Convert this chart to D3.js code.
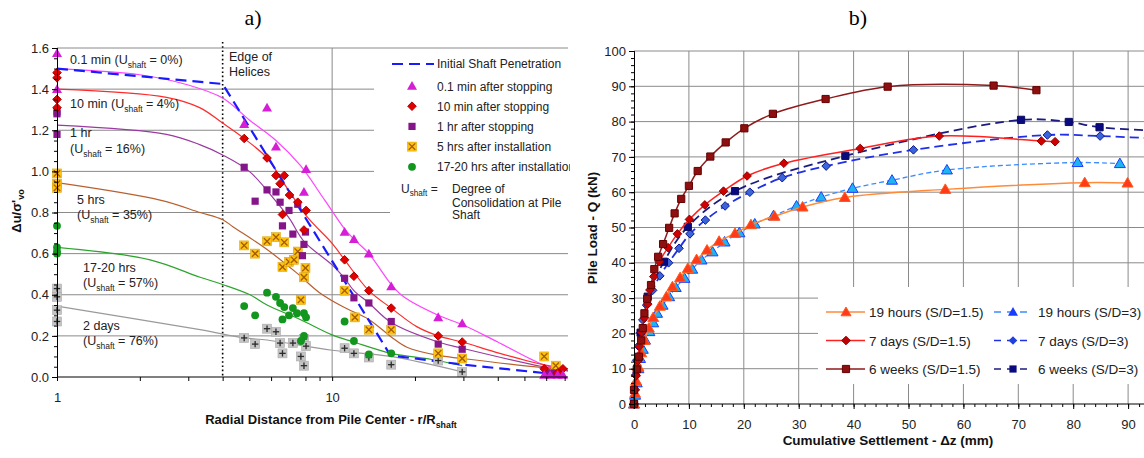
<!DOCTYPE html>
<html>
<head>
<meta charset="utf-8">
<script src="https://cdn.jsdelivr.net/npm/d3@7"></script>
<style>
body { margin: 0; background: #fff; }
svg { display: block; font-family: "Liberation Sans", Arial, sans-serif; }
</style>
</head>
<body>
<svg id="chart" width="1144" height="458"></svg>
<script>
// ---------- panel a) data : r/Rshaft , du/s'vo ----------
var rTicks = [1, 2, 3, 4, 5, 6, 7, 8, 9, 10, 20, 30, 40, 50, 60, 70];
var duTicks = [0, 0.2, 0.4, 0.6, 0.8, 1.0, 1.2, 1.4, 1.6];
var helixEdge = 4;

var initShaft = [[1, 1.50], [4.0, 1.425], [16.3, 0.105], [30, 0.06], [69, 0.01]];

var fit01min = [[1, 1.50], [2, 1.47], [3, 1.42], [4, 1.357], [5, 1.25], [6.25, 1.15], [7.65, 1.03], [9.4, 0.86], [11.1, 0.72], [12, 0.67], [13.6, 0.60], [16.4, 0.45], [18.2, 0.39], [24.3, 0.30], [29.7, 0.255], [40, 0.17], [58.5, 0.06], [72, 0.03]];
var fit10min = [[1, 1.40], [2.5, 1.36], [3.3, 1.31], [4, 1.235], [4.79, 1.16], [5.8, 1.065], [6.85, 0.92], [8.1, 0.78], [10, 0.65], [11.1, 0.57], [13.6, 0.42], [16.4, 0.335], [20.3, 0.245], [24.3, 0.20], [29.7, 0.17], [40.7, 0.115], [58.5, 0.06], [72, 0.04]];
var fit1hr = [[1, 1.225], [2.5, 1.18], [3.3, 1.13], [4, 1.08], [5, 1.0], [6.2, 0.86], [7, 0.77], [7.9, 0.66], [10, 0.545], [11.1, 0.48], [12, 0.42], [13.6, 0.36], [16.4, 0.265], [24.3, 0.17], [29.7, 0.14], [58.5, 0.05], [72, 0.03]];
var fit5hr = [[1, 0.945], [2.37, 0.86], [3.31, 0.80], [4, 0.765], [4.37, 0.73], [5.8, 0.62], [7.45, 0.505], [9, 0.41], [11, 0.34], [13.6, 0.28], [16.4, 0.195], [18.7, 0.145], [24.3, 0.105], [29.7, 0.09], [58.5, 0.045], [72, 0.035]];
var fit17hr = [[1, 0.63], [2.18, 0.57], [3.31, 0.485], [4, 0.45], [5.03, 0.40], [5.8, 0.35], [7.65, 0.28], [10, 0.205], [12, 0.17], [16.4, 0.115], [23, 0.085], [29.7, 0.055]];
var fit2day = [[1, 0.345], [3.31, 0.23], [4.79, 0.19], [5.8, 0.18], [10, 0.13], [16.3, 0.10], [29.7, 0.025]];

var pts01min = [[1, 1.575], [1, 1.40], [4.79, 1.23], [5.8, 1.31], [6.25, 1.12], [8.04, 1.01], [7.9, 0.90], [11.1, 0.705], [12.0, 0.67], [13.6, 0.60], [16.4, 0.44], [24.3, 0.29], [29.7, 0.26], [59, 0.01], [62, 0.01], [66, 0.01], [69, 0.01]];
var pts10min = [[1, 1.48], [1, 1.455], [1, 1.35], [1, 1.31], [4.79, 1.16], [5.8, 1.065], [6.25, 0.98], [6.7, 0.98], [6.47, 0.94], [7.0, 0.885], [7.5, 0.85], [6.6, 0.79], [8.04, 0.81], [7.9, 0.715], [11.1, 0.57], [12.0, 0.49], [13.6, 0.42], [16.4, 0.335], [24.3, 0.20], [29.7, 0.17], [59, 0.04], [66, 0.02], [69, 0.04]];
var pts1hr = [[1, 1.29], [1, 1.28], [1, 1.18], [4.79, 1.02], [5.8, 0.91], [6.25, 0.90], [5.25, 0.855], [6.47, 0.85], [7.5, 0.84], [6.97, 0.81], [6.6, 0.735], [7.2, 0.695], [8.0, 0.705], [7.9, 0.645], [7.8, 0.59], [11.1, 0.48], [12.0, 0.385], [13.6, 0.36], [16.4, 0.27], [24.3, 0.16], [29.7, 0.135], [60, 0.02], [63, 0.02], [67, 0.02]];
var pts5hr = [[1, 0.99], [1, 0.94], [1, 0.92], [4.79, 0.64], [5.25, 0.60], [5.8, 0.66], [6.25, 0.68], [6.7, 0.655], [6.6, 0.535], [6.97, 0.56], [7.27, 0.57], [7.5, 0.61], [8.0, 0.53], [7.9, 0.485], [7.7, 0.375], [11.1, 0.42], [12.1, 0.29], [13.6, 0.23], [16.4, 0.23], [24.3, 0.115], [29.7, 0.09], [59, 0.10], [65, 0.055]];
var pts17hr = [[1, 0.735], [1, 0.63], [1, 0.61], [1, 0.60], [4.79, 0.345], [5.25, 0.30], [5.8, 0.41], [6.25, 0.39], [6.47, 0.36], [6.7, 0.34], [6.6, 0.28], [6.97, 0.30], [7.2, 0.335], [7.45, 0.31], [7.9, 0.31], [8.04, 0.29], [7.9, 0.20], [7.7, 0.175], [11.1, 0.27], [12.0, 0.175], [13.6, 0.11], [16.4, 0.115]];
var pts2day = [[1, 0.43], [1, 0.39], [1, 0.325], [1, 0.27], [4.79, 0.19], [5.25, 0.16], [5.8, 0.235], [6.25, 0.22], [6.47, 0.165], [6.6, 0.115], [7.2, 0.165], [7.9, 0.185], [8.04, 0.15], [7.7, 0.10], [7.9, 0.055], [11.1, 0.14], [12.0, 0.115], [13.6, 0.095], [16.4, 0.06], [24.3, 0.08], [29.7, 0.025]];

var legendA = ["0.1 min after stopping", "10 min after stopping", "1 hr after stopping", "5 hrs after installation", "17-20 hrs after installation"];

// ---------- panel b) data : settlement (mm) , load (kN) ----------
var dzTicks = [0, 10, 20, 30, 40, 50, 60, 70, 80, 90];
var qTicks = [0, 10, 20, 30, 40, 50, 60, 70, 80, 90, 100];

var s19h15 = [[0, 0], [0.2, 3], [0.4, 6.5], [0.8, 10.5], [1.3, 14.5], [1.9, 18], [2.7, 21.5], [3.5, 24.5], [4.7, 27.7], [5.9, 30.4], [7.0, 33.2], [8.4, 35.8], [9.8, 38.4], [11.4, 40.9], [13.3, 43.6], [15.5, 46.1], [18.4, 48.3], [21.3, 50.8], [25.6, 53.2], [30.7, 55.8], [38.4, 58.5], [56.7, 60.8], [82.1, 62.7], [89.9, 62.6]];
var s7d15 = [[0, 0], [0.2, 4], [0.4, 8], [0.7, 12.2], [1.0, 16.3], [1.4, 20.3], [1.9, 24.4], [2.5, 28.3], [2.9, 32.3], [3.6, 36.1], [4.6, 40.3], [6.2, 44.3], [7.9, 48.2], [10.1, 52.3], [12.9, 56.4], [16.3, 60.3], [20.6, 64.6], [27.3, 68.2], [41.2, 72.4], [55.6, 75.9], [74.2, 74.5], [76.7, 74.3]];
var s6w15 = [[0, 0], [0, 4], [0.5, 9.8], [0.9, 13.4], [1.3, 18], [1.6, 21.5], [1.9, 25.7], [2.4, 29.8], [3.1, 33.7], [3.7, 38.2], [4.4, 41.7], [5.3, 45.3], [6.4, 49.9], [7.4, 54], [8.6, 58.1], [10.0, 61.8], [11.6, 66], [13.9, 70.1], [16.7, 74.1], [20.1, 78.1], [25.3, 82.2], [34.9, 86.4], [46.2, 89.9], [65.5, 90.2], [73.3, 88.9]];
var s19h3 = [[0, 0], [0.2, 2.5], [0.5, 6], [0.8, 10], [1.1, 12.9], [1.6, 15.5], [2.0, 18.1], [2.8, 20.5], [3.5, 23.0], [4.2, 25.7], [5.2, 28], [6.4, 30.4], [7.6, 33], [9.2, 35.6], [10.6, 38.2], [12.3, 40.8], [14.3, 43.1], [16.5, 45.9], [19.2, 48.5], [22.0, 51.0], [25.4, 53.3], [29.6, 56.1], [34.1, 58.6], [39.8, 61.1], [47.0, 63.4], [57.0, 66.3], [80.8, 68.4], [88.5, 68.1]];
var s7d3 = [[0, 0], [0.2, 4], [0.3, 8.2], [0.5, 12.4], [0.8, 16.4], [1.2, 20.2], [1.6, 23.8], [2.3, 28], [3.4, 32.2], [4.7, 36.3], [6.3, 40], [8.2, 44.1], [10.2, 48.2], [13, 52.1], [16.6, 56.1], [21.1, 60], [27, 64.1], [35, 67.4], [50.9, 72], [75.3, 76.2], [84.9, 75.9], [98, 75.0]];
var s6w3 = [[0, 0], [0.6, 10.1], [1.2, 20.2], [2.5, 30.4], [5.45, 40.3], [9.8, 50.2], [18.4, 60.3], [38.5, 70.3], [70.5, 80.5], [79.2, 79.9], [84.8, 78.4], [98, 77.2]];

var legendB = ["19 hours (S/D=1.5)", "7 days (S/D=1.5)", "6 weeks (S/D=1.5)", "19 hours (S/D=3)", "7 days (S/D=3)", "6 weeks (S/D=3)"];

// ---------- helpers ----------
var svg = d3.select('#chart');
var gridColor = '#8a8a8a';

function marker(g, type, x, y, fill, stroke) {
	if (type === 'x' || type === 'plus') {
		g.append('rect').attr('x', x - 4.5).attr('y', y - 4.5).attr('width', 9).attr('height', 9)
			.attr('fill', fill).attr('stroke', d3.color(fill).darker(0.4)).attr('stroke-width', 0.6);
		var k = 3.2, p = [];
		if (type === 'x') p = [[x - k, y - k, x + k, y + k], [x - k, y + k, x + k, y - k]];
		else p = [[x - k, y, x + k, y], [x, y - k, x, y + k]];
		p.forEach(function(l) {
			g.append('line').attr('x1', l[0]).attr('y1', l[1]).attr('x2', l[2]).attr('y2', l[3])
				.attr('stroke', stroke).attr('stroke-width', 1.3);
		});
		return;
	}
	var d;
	if (type === 'tri') d = 'M0,-5L5,3.8L-5,3.8Z';
	else if (type === 'bigtri') d = 'M0,-5.5L5.5,4L-5.5,4Z';
	else if (type === 'dia') d = 'M0,-4.3L4.3,0L0,4.3L-4.3,0Z';
	else if (type === 'sq') d = 'M-3.6,-3.6H3.6V3.6H-3.6Z';
	else d = d3.symbol().type(d3.symbolCircle).size(48)();
	g.append('path').attr('transform', 'translate(' + x + ',' + y + ')').attr('d', d)
		.attr('fill', fill).attr('stroke', stroke || 'none').attr('stroke-width', 1);
}

function subText(g, x, y, pre, sub, post, size, anchor) {
	var t = g.append('text').attr('x', x).attr('y', y).attr('font-size', size)
		.attr('fill', '#222').attr('text-anchor', anchor || 'start');
	t.append('tspan').text(pre);
	t.append('tspan').attr('font-size', size * 0.68).attr('dy', size * 0.28).text(sub);
	t.append('tspan').attr('dy', -size * 0.28).text(post);
	return t;
}

function styleAxis(a, size) {
	a.select('.domain').attr('stroke', '#000');
	a.selectAll('.tick line').attr('stroke', '#000');
	a.selectAll('.tick text').attr('font-size', size).attr('fill', '#222')
		.attr('font-family', '"Liberation Sans", Arial, sans-serif');
}

// ---------- panel a) ----------
var xL = d3.scaleLog().domain([1, 72]).range([57, 568]);
var yL = d3.scaleLinear().domain([0, 1.6]).range([377, 48]);

svg.append('defs').append('clipPath').attr('id', 'clipA')
	.append('rect').attr('x', 0).attr('y', 0).attr('width', 570).attr('height', 458);

var gA = svg.append('g').attr('clip-path', 'url(#clipA)');

gA.selectAll('line.hg').data(duTicks.slice(1)).enter().append('line')
	.attr('x1', xL(1)).attr('x2', 568)
	.attr('y1', function(d) { return yL(d); }).attr('y2', function(d) { return yL(d); })
	.attr('stroke', gridColor).attr('stroke-width', 1);
gA.append('line').attr('x1', xL(10)).attr('x2', xL(10)).attr('y1', yL(1.6)).attr('y2', yL(0))
	.attr('stroke', gridColor);
gA.append('line').attr('x1', xL(helixEdge)).attr('x2', xL(helixEdge)).attr('y1', 42).attr('y2', yL(0))
	.attr('stroke', '#000').attr('stroke-width', 1.6).attr('stroke-dasharray', '1.6,2.6');

// legend background (covers grid lines)
gA.append('rect').attr('x', 374).attr('y', 52).attr('width', 200).attr('height', 126).attr('fill', '#fff');
gA.append('rect').attr('x', 390).attr('y', 176).attr('width', 184).attr('height', 44).attr('fill', '#fff');

// axes
var yAxA = svg.append('g').attr('transform', 'translate(' + xL(1) + ',0)')
	.call(d3.axisLeft(yL).tickValues(d3.range(0, 1.601, 0.05)).tickSize(3).tickFormat(''));
styleAxis(yAxA, 13);
var yAxA2 = svg.append('g').attr('transform', 'translate(' + xL(1) + ',0)')
	.call(d3.axisLeft(yL).tickValues(duTicks).tickSize(5).tickPadding(3).tickFormat(d3.format('.1f')));
styleAxis(yAxA2, 13);
var xAxA = svg.append('g').attr('transform', 'translate(0,' + yL(0) + ')')
	.call(d3.axisBottom(xL).tickValues(rTicks).tickSize(4).tickPadding(12)
		.tickFormat(function(d) { return (d === 1 || d === 10) ? d : ''; }));
xAxA.select('.domain').attr('d', 'M' + xL(1) + ',0H568');
styleAxis(xAxA, 13);

// fitted curves
var lineA = d3.line().x(function(d) { return xL(d[0]); }).y(function(d) { return yL(d[1]); })
	.curve(d3.curveCatmullRom.alpha(0.5));
var fitsA = [
	{ data: fit01min, color: '#ff44ff' },
	{ data: fit10min, color: '#ff2a2a' },
	{ data: fit1hr, color: '#9a3aa0' },
	{ data: fit5hr, color: '#b8602e' },
	{ data: fit17hr, color: '#2ea32e' },
	{ data: fit2day, color: '#9a9a9a' }
];
fitsA.forEach(function(f) {
	gA.append('path').attr('d', lineA(f.data)).attr('fill', 'none')
		.attr('stroke', f.color).attr('stroke-width', 1.2);
});
gA.append('path').attr('d', d3.line().x(function(d) { return xL(d[0]); }).y(function(d) { return yL(d[1]); })(initShaft))
	.attr('fill', 'none').attr('stroke', '#1a1aff').attr('stroke-width', 2.2).attr('stroke-dasharray', '11,6');

// points
var ptsA = [
	{ data: pts2day, type: 'plus', fill: '#c4c4c4', stroke: '#2a2a2a' },
	{ data: pts17hr, type: 'circ', fill: '#12961e', stroke: null },
	{ data: pts5hr, type: 'x', fill: '#ffc20e', stroke: '#a05a00' },
	{ data: pts1hr, type: 'sq', fill: '#85168a', stroke: null },
	{ data: pts10min, type: 'dia', fill: '#e00000', stroke: '#b00000' },
	{ data: pts01min, type: 'tri', fill: '#d61ed6', stroke: null }
];
ptsA.forEach(function(s) {
	var g = gA.append('g');
	s.data.forEach(function(p) { marker(g, s.type, xL(p[0]), yL(p[1]), s.fill, s.stroke); });
});

// annotations
var gT = svg.append('g').attr('clip-path', 'url(#clipA)');
subText(gT, 70, 64, '0.1 min (U', 'shaft', ' = 0%)', 12.5);
subText(gT, 70, 108, '10 min (U', 'shaft', ' = 4%)', 12.5);
gT.append('text').attr('x', 70).attr('y', 137).attr('font-size', 12.5).attr('fill', '#222').text('1 hr');
subText(gT, 70, 153, '(U', 'shaft', ' = 16%)', 12.5);
gT.append('text').attr('x', 77).attr('y', 204).attr('font-size', 12.5).attr('fill', '#222').text('5 hrs');
subText(gT, 77, 219, '(U', 'shaft', ' = 35%)', 12.5);
gT.append('text').attr('x', 83).attr('y', 272).attr('font-size', 12.5).attr('fill', '#222').text('17-20 hrs');
subText(gT, 83, 287, '(U', 'shaft', ' = 57%)', 12.5);
gT.append('text').attr('x', 83).attr('y', 330).attr('font-size', 12.5).attr('fill', '#222').text('2 days');
subText(gT, 83, 345, '(U', 'shaft', ' = 76%)', 12.5);
gT.append('text').attr('x', 229).attr('y', 61).attr('font-size', 12.5).attr('fill', '#222').text('Edge of');
gT.append('text').attr('x', 229).attr('y', 76).attr('font-size', 12.5).attr('fill', '#222').text('Helices');

// legend a)
gT.append('line').attr('x1', 392).attr('x2', 434).attr('y1', 64).attr('y2', 64)
	.attr('stroke', '#1a1aff').attr('stroke-width', 2.2).attr('stroke-dasharray', '11,6');
gT.append('text').attr('x', 437).attr('y', 68).attr('font-size', 12).attr('fill', '#222').text('Initial Shaft Penetration');
var legA = [ptsA[5], ptsA[4], ptsA[3], ptsA[2], ptsA[1]];
legA.forEach(function(s, i) {
	var yy = 86 + i * 20.2;
	marker(gT, s.type, 412, yy, s.fill, s.stroke);
	gT.append('text').attr('x', 437).attr('y', yy + 4.5).attr('font-size', 12).attr('fill', '#222').text(legendA[i]);
});
subText(gT, 401, 193, 'U', 'shaft', ' =', 12);
gT.append('text').attr('x', 452).attr('y', 193).attr('font-size', 12).attr('fill', '#222').text('Degree of');
gT.append('text').attr('x', 452).attr('y', 207).attr('font-size', 12).attr('fill', '#222').text('Consolidation at Pile');
gT.append('text').attr('x', 452).attr('y', 219).attr('font-size', 12).attr('fill', '#222').text('Shaft');

// titles a)
svg.append('text').attr('x', 253).attr('y', 25).attr('text-anchor', 'middle')
	.attr('font-family', '"Liberation Serif", "Times New Roman", serif').attr('font-size', 22).text('a)');
subText(svg, 331, 424, 'Radial Distance from Pile Center - r/R', 'shaft', '', 13, 'middle')
	.attr('font-weight', 'bold').attr('fill', '#111');
var yTitA = svg.append('text').attr('transform', 'translate(21,211) rotate(-90)')
	.attr('text-anchor', 'middle').attr('font-size', 13).attr('font-weight', 'bold').attr('fill', '#111');
yTitA.append('tspan').text('\u0394u/\u03c3\'');
yTitA.append('tspan').attr('font-size', 9).attr('dy', 3).text('vo');

// ---------- panel b) ----------
var xR = d3.scaleLinear().domain([0, 100]).range([634, 1183]);
var yR = d3.scaleLinear().domain([0, 100]).range([404, 51]);
var gB = svg.append('g');

gB.selectAll('line.hg').data(qTicks.slice(1)).enter().append('line')
	.attr('x1', xR(0)).attr('x2', xR(100))
	.attr('y1', function(d) { return yR(d); }).attr('y2', function(d) { return yR(d); })
	.attr('stroke', gridColor);
gB.selectAll('line.vg').data(dzTicks.slice(1)).enter().append('line')
	.attr('y1', yR(0)).attr('y2', yR(100))
	.attr('x1', function(d) { return xR(d); }).attr('x2', function(d) { return xR(d); })
	.attr('stroke', gridColor);

// legend background b)
gB.append('rect').attr('x', 818).attr('y', 287).attr('width', 340).attr('height', 97).attr('fill', '#fff');

var yAxB = svg.append('g').attr('transform', 'translate(' + xR(0) + ',0)')
	.call(d3.axisLeft(yR).tickValues(d3.range(0, 100.1, 2)).tickSize(3).tickFormat(''));
styleAxis(yAxB, 13);
var yAxB2 = svg.append('g').attr('transform', 'translate(' + xR(0) + ',0)')
	.call(d3.axisLeft(yR).tickValues(qTicks).tickSize(5).tickPadding(3));
styleAxis(yAxB2, 13);
var xAxB = svg.append('g').attr('transform', 'translate(0,' + yR(0) + ')')
	.call(d3.axisBottom(xR).tickValues(d3.range(0, 92.1, 2)).tickSize(3).tickFormat(''));
xAxB.select('.domain').attr('d', 'M' + xR(0) + ',0H1144');
styleAxis(xAxB, 13);
var xAxB2 = svg.append('g').attr('transform', 'translate(0,' + yR(0) + ')')
	.call(d3.axisBottom(xR).tickValues(dzTicks).tickSize(5).tickPadding(11));
xAxB2.select('.domain').remove();
styleAxis(xAxB2, 13);

var lineB = d3.line().x(function(d) { return xR(d[0]); }).y(function(d) { return yR(d[1]); })
	.curve(d3.curveCatmullRom.alpha(0.5));
var seriesB = [
	{ data: s19h3, color: '#3d8cff', dash: '5,3', width: 1.3, type: 'bigtri', fill: '#1eb4f0', stroke: '#1a3cff', lfill: '#1a3cff' },
	{ data: s7d3, color: '#2030e8', dash: '9,5', width: 1.8, type: 'dia', fill: '#3a64d8', stroke: '#101a90', lfill: '#2040e0' },
	{ data: s6w3, color: '#1c1c80', dash: '9,5', width: 1.8, type: 'sq', fill: '#0a0a80', stroke: '#0a0a60', lfill: '#0a0a80' },
	{ data: s19h15, color: '#ff8a3a', dash: null, width: 1.5, type: 'bigtri', fill: '#ff3a1a', stroke: '#ff5a1a', lfill: '#ff3a1a' },
	{ data: s7d15, color: '#ff2020', dash: null, width: 1.5, type: 'dia', fill: '#d00000', stroke: '#900000', lfill: '#c00000' },
	{ data: s6w15, color: '#8e1a1a', dash: null, width: 1.5, type: 'sq', fill: '#8e0f0f', stroke: '#600', lfill: '#8e0f0f' }
];
// S/D=3 first so the S/D=1.5 markers sit on top
seriesB.forEach(function(s) {
	gB.append('path').attr('d', lineB(s.data)).attr('fill', 'none').attr('stroke', s.color)
		.attr('stroke-width', s.width).attr('stroke-dasharray', s.dash);
	var g = gB.append('g');
	s.data.forEach(function(p) { marker(g, s.type, xR(p[0]), yR(p[1]), s.fill, s.stroke); });
});

// legend b)
var legOrder = [3, 4, 5, 0, 1, 2];
legOrder.forEach(function(si, i) {
	var s = seriesB[si];
	var col = i < 3 ? 0 : 1, row = i % 3;
	var yy = 312 + row * 28.5;
	var x0 = col === 0 ? 826 : 994, x1 = col === 0 ? 865 : 1031, xm = col === 0 ? 846 : 1013;
	svg.append('line').attr('x1', x0).attr('x2', x1).attr('y1', yy).attr('y2', yy)
		.attr('stroke', s.color).attr('stroke-width', 1.6).attr('stroke-dasharray', col === 0 ? null : '7,6');
	marker(svg, s.type === 'bigtri' ? 'tri' : s.type, xm, yy, s.lfill, col === 0 ? s.stroke : null);
	svg.append('text').attr('x', col === 0 ? 869 : 1038).attr('y', yy + 5).attr('font-size', 13.5)
		.attr('fill', '#222').text(legendB[i]);
});

// titles b)
svg.append('text').attr('x', 858).attr('y', 25).attr('text-anchor', 'middle')
	.attr('font-family', '"Liberation Serif", "Times New Roman", serif').attr('font-size', 22).text('b)');
svg.append('text').attr('x', 888).attr('y', 445).attr('text-anchor', 'middle').attr('font-size', 13.5)
	.attr('font-weight', 'bold').attr('fill', '#111').text('Cumulative Settlement - \u0394z (mm)');
svg.append('text').attr('transform', 'translate(597,228) rotate(-90)').attr('text-anchor', 'middle')
	.attr('font-size', 13.5).attr('font-weight', 'bold').attr('fill', '#111').text('Pile Load - Q (kN)');
</script>
</body>
</html>
